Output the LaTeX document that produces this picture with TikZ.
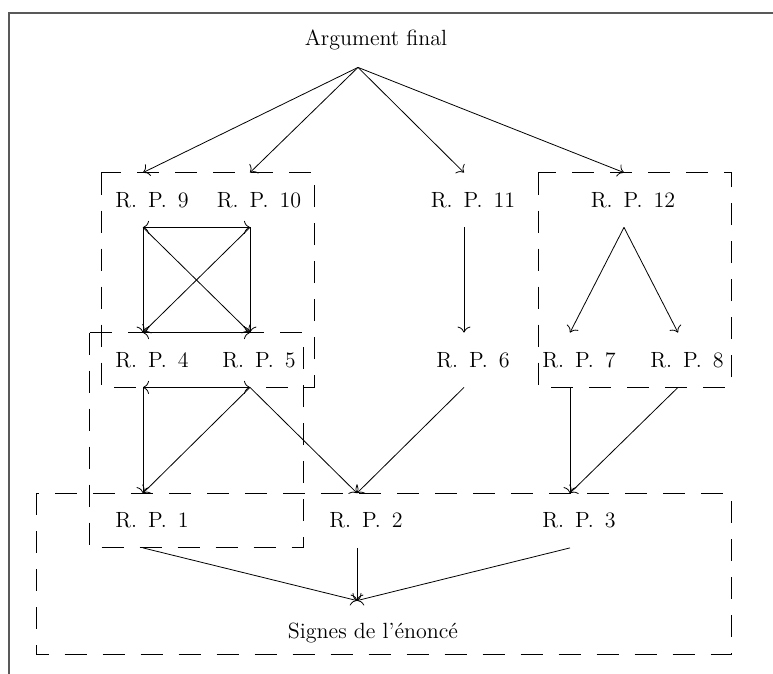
\documentclass[tikz,border=0pt]{standalone}
\usepackage{fontspec}
\usetikzlibrary{arrows.meta}
\newcommand{\rplabel}[1]{R.\enspace P.\enspace #1}
\begin{document}
\begin{tikzpicture}[x=0.5pt,y=-0.5pt,>={To[length=3pt,width=6.5pt]},
  lbl/.style={inner sep=0pt,minimum height=27pt,font=\fontsize{11}{13}\selectfont},
  rpnode/.style={lbl,execute at begin node={\hspace*{9pt}}},
  argnode/.style={lbl,execute at begin node={\hspace*{18pt}}},
  signode/.style={lbl,minimum height=32.5pt,execute at begin node={\hspace*{16pt}}},
  group/.style={dash pattern=on 11pt off 8pt}]
\useasboundingbox (0,0) rectangle (773,674);
\draw[black!65,line width=0.8pt] (9,674) -- (9,13) -- (773,13);

\node[argnode] (arg) at (358,40) {Argument final};
\node[rpnode] (rp9) at (143,200) {\rplabel{9}};
\node[rpnode] (rp10) at (250,200) {\rplabel{10}};
\node[rpnode] (rp11) at (464,200) {\rplabel{11}};
\node[rpnode] (rp12) at (624,200) {\rplabel{12}};
\node[rpnode] (rp4) at (143,360) {\rplabel{4}};
\node[rpnode] (rp5) at (250,360) {\rplabel{5}};
\node[rpnode] (rp6) at (464,360) {\rplabel{6}};
\node[rpnode] (rp7) at (570,360) {\rplabel{7}};
\node[rpnode] (rp8) at (678,360) {\rplabel{8}};
\node[rpnode] (rp1) at (143,520.5) {\rplabel{1}};
\node[rpnode] (rp2) at (357,520.5) {\rplabel{2}};
\node[rpnode] (rp3) at (570,520.5) {\rplabel{3}};
\node[signode] (sig) at (357,633.5) {Signes de l'énoncé};

\draw[group] ([xshift=-21pt]rp9.north) rectangle ([xshift=32pt]rp5.south);
\draw[group] ([xshift=-27pt]rp4.north) rectangle ([xshift=80pt]rp1.south);
\draw[group] ([xshift=-43pt]rp12.north) rectangle ([xshift=26.5pt]rp8.south);
\draw[group] ([xshift=-53.5pt]rp1.north) rectangle ([xshift=187pt,yshift=6pt]sig.south);

\foreach \t in {rp9,rp10,rp11,rp12}
  \draw[->] (arg.south) -- (\t.north);
\draw[<->] (rp9.south) -- (rp10.south);
\draw[<->] (rp4.north) -- (rp5.north);
\draw[<->] (rp4.south) -- (rp5.south);
\foreach \s/\t in {rp9/rp4,rp9/rp5,rp10/rp4,rp10/rp5,rp11/rp6,rp12/rp7,rp12/rp8}
  \draw[->] (\s.south) -- (\t.north);
\foreach \s/\t in {rp4/rp1,rp5/rp1,rp5/rp2,rp6/rp2,rp7/rp3,rp8/rp3}
  \draw[->] (\s.south) -- (\t.north);
\foreach \s in {rp1,rp2,rp3}
  \draw[->] (\s.south) -- (sig.north);
\end{tikzpicture}
\end{document}
